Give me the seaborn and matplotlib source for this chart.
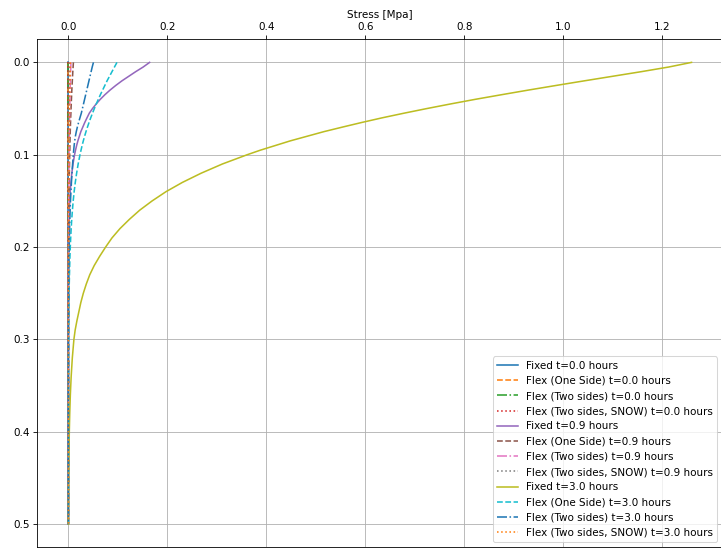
import numpy as np
import pandas as pd
import matplotlib
matplotlib.use("Agg")
import matplotlib.pyplot as plt
import seaborn as sns

# Depth below surface [m]
depth = [0.0, 0.005, 0.01, 0.015, 0.02, 0.025, 0.03, 0.035, 0.04, 0.045,
         0.05, 0.055, 0.06, 0.065, 0.07, 0.075, 0.08, 0.085, 0.09, 0.095, 0.10,
         0.11, 0.12, 0.13, 0.14, 0.15, 0.16, 0.17, 0.18, 0.19, 0.20,
         0.21, 0.22, 0.23, 0.24, 0.25, 0.26, 0.27, 0.28, 0.29, 0.30,
         0.32, 0.34, 0.36, 0.38, 0.40, 0.42, 0.44, 0.46, 0.48, 0.50]

# Stress [MPa] per series
fixed_t0 = [0.0] * 51
flex_one_t0 = [0.0] * 51
flex_two_t0 = [0.0] * 51
flex_snow_t0 = [0.0] * 51

fixed_t09 = [0.164, 0.151, 0.136, 0.122, 0.108, 0.0955, 0.084, 0.0736, 0.0643, 0.056,
             0.0486, 0.0421, 0.0375, 0.033, 0.029, 0.025, 0.022, 0.019, 0.0165, 0.0143, 0.0123,
             0.0092, 0.0068, 0.005, 0.0036, 0.0026, 0.0019, 0.0013, 0.0009, 0.0006, 0.0004,
             0.0003, 0.0002, 0.0001, 0.0, 0.0, 0.0, 0.0, 0.0, 0.0, 0.0,
             0.0, 0.0, 0.0, 0.0, 0.0, 0.0, 0.0, 0.0, 0.0, 0.0]
flex_one_t09 = [0.010, 0.0094, 0.0088, 0.0083, 0.0078, 0.0073, 0.0068, 0.0064, 0.006, 0.0056,
                0.0052, 0.0049, 0.0045, 0.0042, 0.0039, 0.0036, 0.0034, 0.0031, 0.0029, 0.0027, 0.0025,
                0.0021, 0.0018, 0.0015, 0.0013, 0.0011, 0.0009, 0.0007, 0.0006, 0.0005, 0.0004,
                0.0003, 0.0002, 0.0002, 0.0001, 0.0001, 0.0, 0.0, 0.0, 0.0, 0.0,
                0.0, 0.0, 0.0, 0.0, 0.0, 0.0, 0.0, 0.0, 0.0, 0.0]
flex_two_t09 = [0.005, 0.0047, 0.0044, 0.0041, 0.0039, 0.0036, 0.0034, 0.0032, 0.003, 0.0028,
                0.0026, 0.0024, 0.0022, 0.0021, 0.0019, 0.0018, 0.0017, 0.0015, 0.0014, 0.0013, 0.0012,
                0.001, 0.0009, 0.0007, 0.0006, 0.0005, 0.0004, 0.0003, 0.0003, 0.0002, 0.0002,
                0.0001, 0.0001, 0.0, 0.0, 0.0, 0.0, 0.0, 0.0, 0.0, 0.0,
                0.0, 0.0, 0.0, 0.0, 0.0, 0.0, 0.0, 0.0, 0.0, 0.0]
flex_snow_t09 = [0.002, 0.0019, 0.0018, 0.0017, 0.0016, 0.0015, 0.0014, 0.0013, 0.0012, 0.0011,
                 0.001, 0.0009, 0.0009, 0.0008, 0.0008, 0.0007, 0.0007, 0.0006, 0.0006, 0.0005, 0.0005,
                 0.0004, 0.0003, 0.0003, 0.0002, 0.0002, 0.0001, 0.0001, 0.0, 0.0, 0.0,
                 0.0, 0.0, 0.0, 0.0, 0.0, 0.0, 0.0, 0.0, 0.0, 0.0,
                 0.0, 0.0, 0.0, 0.0, 0.0, 0.0, 0.0, 0.0, 0.0, 0.0]

fixed_t3 = [1.259, 1.213, 1.158, 1.100, 1.042, 0.985, 0.929, 0.875, 0.822, 0.772,
            0.724, 0.678, 0.634, 0.593, 0.554, 0.516, 0.482, 0.448, 0.418, 0.388, 0.361,
            0.311, 0.268, 0.230, 0.197, 0.169, 0.144, 0.123, 0.104, 0.088, 0.075,
            0.063, 0.052, 0.043, 0.036, 0.030, 0.025, 0.021, 0.017, 0.0135, 0.011,
            0.0078, 0.0055, 0.0038, 0.0026, 0.0017, 0.0011, 0.0007, 0.0004, 0.0002, 0.0001]
flex_one_t3 = [0.098, 0.093, 0.088, 0.083, 0.078, 0.0735, 0.069, 0.0645, 0.0603, 0.0562,
               0.0523, 0.0486, 0.045, 0.0416, 0.0384, 0.0354, 0.0326, 0.030, 0.0276, 0.0254, 0.0233,
               0.0196, 0.0165, 0.0138, 0.0115, 0.0096, 0.008, 0.0066, 0.0055, 0.0045, 0.0037,
               0.003, 0.0025, 0.002, 0.0016, 0.0013, 0.001, 0.0008, 0.0006, 0.0005, 0.0004,
               0.0002, 0.0001, 0.0, 0.0, 0.0, 0.0, 0.0, 0.0, 0.0, 0.0]
flex_two_t3 = [0.0505, 0.048, 0.0458, 0.0436, 0.0414, 0.0392, 0.037, 0.0348, 0.0326, 0.0304,
               0.0282, 0.026, 0.0232, 0.0205, 0.018, 0.0158, 0.014, 0.0126, 0.0115, 0.0106, 0.0098,
               0.0084, 0.0072, 0.006, 0.005, 0.0041, 0.0034, 0.0028, 0.0023, 0.0019, 0.0015,
               0.0012, 0.001, 0.0008, 0.0006, 0.0005, 0.0004, 0.0003, 0.0002, 0.0001, 0.0001,
               0.0, 0.0, 0.0, 0.0, 0.0, 0.0, 0.0, 0.0, 0.0, 0.0]
flex_snow_t3 = [0.004, 0.0038, 0.0036, 0.0034, 0.0032, 0.003, 0.0028, 0.0027, 0.0025, 0.0024,
                0.0022, 0.0021, 0.002, 0.0019, 0.0018, 0.0017, 0.0016, 0.0015, 0.0014, 0.0013, 0.0012,
                0.0011, 0.001, 0.0009, 0.0008, 0.0007, 0.0006, 0.0005, 0.0004, 0.0004, 0.0003,
                0.0003, 0.0002, 0.0002, 0.0001, 0.0001, 0.0, 0.0, 0.0, 0.0, 0.0,
                0.0, 0.0, 0.0, 0.0, 0.0, 0.0, 0.0, 0.0, 0.0, 0.0]

series = [
    ("Fixed t=0.0 hours", fixed_t0),
    ("Flex (One Side) t=0.0 hours", flex_one_t0),
    ("Flex (Two sides) t=0.0 hours", flex_two_t0),
    ("Flex (Two sides, SNOW) t=0.0 hours", flex_snow_t0),
    ("Fixed t=0.9 hours", fixed_t09),
    ("Flex (One Side) t=0.9 hours", flex_one_t09),
    ("Flex (Two sides) t=0.9 hours", flex_two_t09),
    ("Flex (Two sides, SNOW) t=0.9 hours", flex_snow_t09),
    ("Fixed t=3.0 hours", fixed_t3),
    ("Flex (One Side) t=3.0 hours", flex_one_t3),
    ("Flex (Two sides) t=3.0 hours", flex_two_t3),
    ("Flex (Two sides, SNOW) t=3.0 hours", flex_snow_t3),
]

colors = ["C0", "C1", "C2", "C3", "C4", "C5", "C6", "C7", "C8", "C9", "C0", "C1"]
styles = ["-", "--", "-.", ":"]

DPI = 75
fig = plt.figure(figsize=(721 / DPI, 548 / DPI), dpi=DPI)
ax = fig.add_axes([37.3 / 721, 1 - 547.3 / 548, 685.4 / 721, 508.0 / 548])

for i, (label, vals) in enumerate(series):
    n = min(len(vals), len(depth))
    df = pd.DataFrame({"stress": vals[:n], "depth": depth[:n]})
    sns.lineplot(data=df, x="stress", y="depth", sort=False, estimator=None,
                 orient="y", color=colors[i], linestyle=styles[i % 4],
                 linewidth=1.5, label=label, ax=ax)

ax.invert_yaxis()
ax.xaxis.tick_top()
ax.xaxis.set_label_position("top")
ax.set_xlabel("Stress [Mpa]")
ax.set_ylabel("")
ax.grid(True)
ax.legend(loc="lower right")

fig.savefig("out.png", dpi=DPI)
